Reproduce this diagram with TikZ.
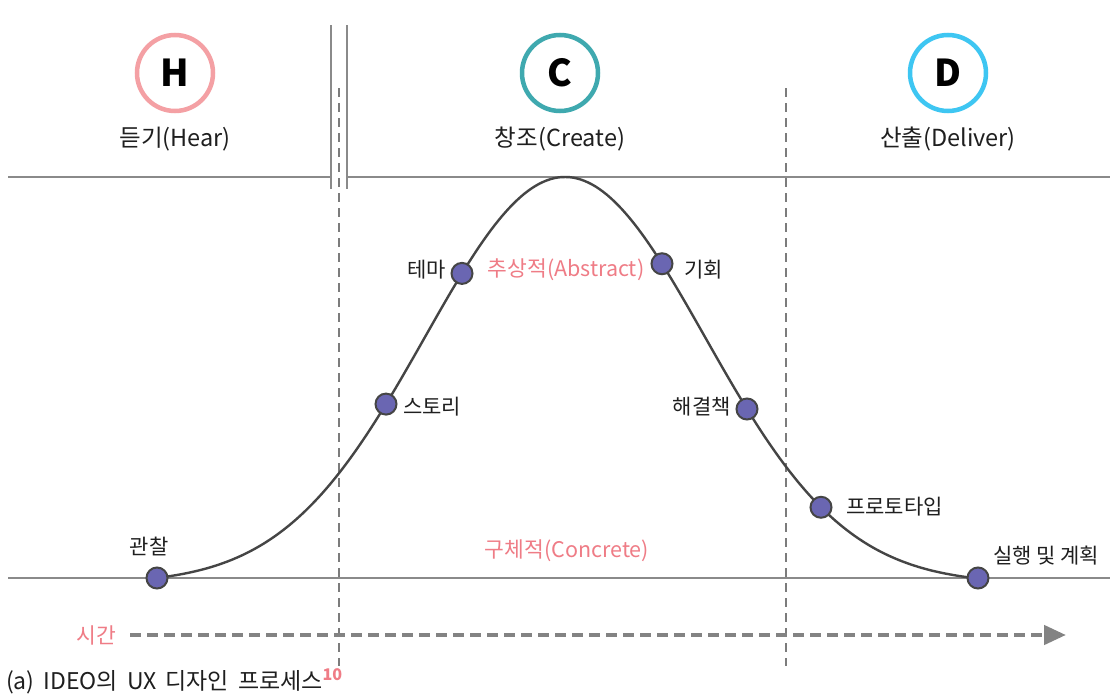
\documentclass[tikz,border=0pt]{standalone}
\usepackage{fontspec}
\setmainfont{Noto Sans CJK KR}
\usetikzlibrary{arrows.meta}
\definecolor{pinkc}{HTML}{F4A0A4}
\definecolor{tealc}{HTML}{3FA9AF}
\definecolor{bluec}{HTML}{3EC6F2}
\definecolor{pinktxt}{HTML}{EF7C86}
\definecolor{dotfill}{HTML}{6A66B2}
\definecolor{linegray}{HTML}{8A8A8A}
\definecolor{curvec}{HTML}{454545}
\pgfmathdeclarefunction{bell}{1}{\pgfmathparse{578-401*(exp(-0.5*((#1-565)/140)^2)-0.014)/0.986}}
\newcommand{\capsp}{\hspace{9pt}}
\tikzset{
  phase/.style={circle, draw=#1, line width=4.5pt, minimum size=76pt, inner sep=0pt,
    font=\fontsize{37}{40}\selectfont\bfseries},
  phaselabel/.style={font=\fontsize{23.5}{27}\selectfont, text=black!88},
  dotnode/.style={circle, draw=curvec, fill=dotfill, line width=2pt, minimum size=21pt, inner sep=0pt},
  lbl/.style={font=\fontsize{21}{25}\selectfont, text=black!88, inner sep=0pt},
  pinklbl/.style={font=\fontsize{21.5}{25}\selectfont, text=pinktxt, inner sep=0pt},
  hline/.style={draw=linegray, line width=1.4pt},
  vdash/.style={draw=linegray!90!black, line width=1.8pt, dash pattern=on 9pt off 6pt},
}
\begin{document}
\begin{tikzpicture}[x=1pt,y=-1pt]
\useasboundingbox[fill=white] (0,0) rectangle (1120,696);
% phases
\node[phase=pinkc] (H) at (175,73) {H};
\node[phase=tealc] (C) at (560,73) {C};
\node[phase=bluec] (D) at (948,73) {D};
\node[phaselabel] (Hl) at (175,139) {듣기(Hear)};
\node[phaselabel] (Cl) at (560,139) {창조(Create)};
\node[phaselabel] (Dl) at (948,139) {산출(Deliver)};
% lines
\coordinate (tl1) at (8,177); \coordinate (tl2) at (331,177);
\coordinate (tr1) at (347,177); \coordinate (tr2) at (1110,177);
\draw[hline] (tl1) -- (tl2);
\draw[hline] (tr1) -- (tr2);
\coordinate (s1a) at (331,25); \coordinate (s1b) at (331,189);
\coordinate (s2a) at (347,25); \coordinate (s2b) at (347,189);
\draw[hline] (s1a) -- (s1b);
\draw[hline] (s2a) -- (s2b);
\coordinate (bl1) at (8,578); \coordinate (bl2) at (1110,578);
\draw[hline] (bl1) -- (bl2);
\coordinate (v1a) at (339,88); \coordinate (v1b) at (339,666);
\coordinate (v2a) at (786,88); \coordinate (v2b) at (786,666);
\draw[vdash] (v1a) -- (v1b);
\draw[vdash] (v2a) -- (v2b);
% curve
\draw[curvec, line width=2.4pt] plot[domain=157:978, samples=220] (\x,{bell(\x)});
% dots
\node[dotnode] (d1) at (157,578) {};
\node[dotnode] (d2) at (386,{bell(386)}) {};
\node[dotnode] (d3) at (462,{bell(462)}) {};
\node[dotnode] (d4) at (662,{bell(662)}) {};
\node[dotnode] (d5) at (747,{bell(747)}) {};
\node[dotnode] (d6) at (821,{bell(821)}) {};
\node[dotnode] (d7) at (978,578) {};
% labels
\node[lbl] (l1) at (149,546) {관찰};
\node[lbl, anchor=west] (l2) at (403,407) {스토리};
\node[lbl, anchor=east] (l3) at (446,270) {테마};
\node[lbl, anchor=west] (l4) at (684,270) {기회};
\node[lbl, anchor=east] (l5) at (731,407) {해결책};
\node[lbl, anchor=west] (l6) at (846,507) {프로토타입};
\node[lbl, anchor=west] (l7) at (993,556) {실행 및 계획};
\node[pinklbl] (abs) at (566,270) {추상적(Abstract)};
\node[pinklbl] (con) at (567,551) {구체적(Concrete)};
% time arrow
\node[pinklbl, anchor=east] (time) at (116,635) {시간};
\coordinate (ta) at (130,635); \coordinate (tb) at (1066,635);
\draw[draw=linegray!95!black, line width=4.5pt, dash pattern=on 11pt off 6pt,
  -{Triangle[length=22pt,width=19pt]}] (ta) -- (tb);
% caption
\node[font=\fontsize{23}{27}\selectfont, text=black!88, inner sep=0pt, anchor=west] (cap) at (6,681) {(a)\capsp IDEO의\capsp UX\capsp 디자인\capsp 프로세스\textsuperscript{\textcolor{pinktxt}{\bfseries 10}}};
\end{tikzpicture}
\end{document}
